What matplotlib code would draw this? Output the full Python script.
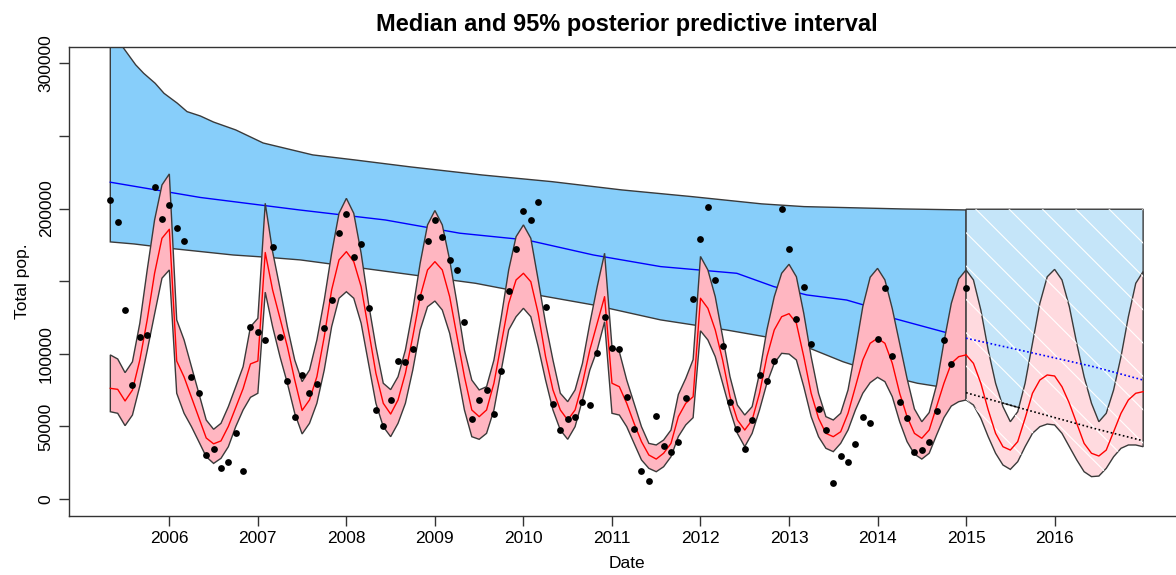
import numpy as np
import matplotlib.pyplot as plt

plt.rcParams['font.family'] = ['Liberation Sans', 'DejaVu Sans']
plt.rcParams['hatch.linewidth'] = 0.8

# monthly observations (thousands), May 2005 .. Jan 2015, nan = missing month
obs = [205.9, 190.5, 130.1, 78.5, 111.8, 112.9, 214.6, 192.6, 202.4, 186.4,
       177.9, 83.8, 72.8, 30.3, 34.6, 21.6, 25.7, 45.2, 19.3, 118.7,
       115.0, 109.5, 173.7, 111.8, 81.3, 56.3, 85.4, 72.8, 79.0, 117.7,
       137.0, 182.9, 196.0, 166.8, 175.4, 131.7, 61.3, 50.1, 68.2, 95.0,
       94.1, 103.3, 139.3, 177.4, 191.9, 180.6, 164.8, 157.9, 121.9, 55.3,
       68.0, 74.8, 58.3, 87.9, 143.4, 171.9, 198.1, 191.9, 204.3, 132.2,
       65.2, 47.3, 54.9, 56.3, 66.8, 64.5, 100.5, 125.3, 104.0, 103.3,
       70.0, 48.0, 19.5, 12.6, 56.9, 36.3, 32.2, 39.5, 69.3, 137.9,
       179.2, 200.9, 151.0, 105.4, 66.8, 48.0, 34.2, 54.2, 85.4, 81.0,
       95.0, 199.5, 171.9, 123.9, 146.2, 106.5, 62.2, 47.3, 11.2, 29.8,
       25.7, 37.7, 56.3, 52.1, 110.2, 145.5, 98.5, 66.6, 55.6, 32.6,
       33.5, 39.5, 60.4, 109.5, 93.0, np.nan, 145.5]

# posterior predictive median and 95% interval, same months
med = [76.2, 75.5, 67.5, 75.0, 95.7, 123.3, 155.4, 179.5, 185.7, 95.0,
       84.0, 70.0, 56.0, 42.0, 38.0, 40.0, 50.0, 63.0, 76.0, 93.0,
       95.0, 169.7, 143.9, 124.4, 104.9, 81.9, 61.0, 68.2, 84.2, 111.8,
       143.9, 164.6, 170.3, 163.4, 146.2, 116.4, 86.6, 65.9, 58.5, 68.2,
       86.6, 111.8, 139.3, 157.7, 163.4, 157.7, 139.3, 111.8, 84.2, 61.3,
       56.7, 61.3, 79.7, 107.2, 134.7, 150.8, 155.4, 149.6, 127.8, 98.0,
       75.1, 61.3, 54.4, 61.3, 79.7, 102.6, 121.0, 139.3, 79.7, 77.3,
       65.9, 52.1, 39.5, 30.3, 27.5, 31.5, 38.3, 56.7, 65.9, 70.4,
       138.2, 131.3, 116.4, 95.7, 70.4, 54.4, 47.5, 54.4, 72.8, 98.0,
       116.4, 125.5, 127.6, 121.0, 98.0, 72.8, 55.6, 45.2, 42.9, 46.3,
       59.0, 77.3, 95.7, 107.2, 110.7, 107.2, 93.4, 72.8, 56.7, 45.2,
       41.8, 47.5, 63.6, 79.7, 93.4, 98.0, 99.2]
lo = [60.1, 59.0, 50.5, 57.8, 77.8, 102.1, 127.3, 152.0, 157.7, 72.8,
      59.0, 49.8, 39.5, 29.1, 24.5, 28.0, 36.0, 49.8, 61.3, 70.0,
      72.8, 142.4, 118.6, 98.0, 79.7, 59.0, 44.8, 52.1, 65.9, 88.8,
      118.6, 138.2, 142.7, 138.2, 121.0, 93.4, 65.9, 49.8, 42.9, 52.1,
      65.9, 88.8, 116.4, 132.4, 136.3, 130.1, 114.1, 88.8, 61.3, 42.9,
      41.1, 45.2, 61.3, 88.8, 116.4, 125.5, 131.3, 125.5, 104.9, 81.9,
      61.3, 47.5, 41.1, 49.8, 68.2, 88.8, 102.6, 122.0, 59.0, 57.8,
      49.8, 38.3, 26.9, 21.1, 18.8, 22.2, 29.1, 43.0, 51.0, 56.0,
      115.8, 109.5, 98.0, 79.7, 61.3, 45.2, 36.0, 45.2, 61.3, 79.7,
      93.4, 100.3, 99.8, 95.7, 77.3, 56.7, 42.9, 34.9, 32.6, 38.3,
      47.5, 61.3, 72.8, 80.1, 83.8, 80.8, 70.4, 53.2, 39.5, 30.9,
      27.5, 31.5, 44.0, 56.0, 64.0, 67.0, 68.2]
hi = [99.2, 96.4, 87.0, 94.5, 121.0, 157.7, 192.1, 216.2, 223.8, 123.3,
      109.5, 91.1, 72.8, 54.4, 48.0, 52.1, 63.6, 77.3, 91.1, 118.6,
      124.4, 203.6, 170.3, 145.1, 118.6, 95.7, 80.8, 88.8, 109.5, 137.0,
      169.2, 196.7, 207.0, 196.7, 169.2, 134.7, 104.9, 79.7, 75.3, 84.2,
      102.6, 130.1, 162.3, 188.7, 198.6, 188.7, 164.6, 134.7, 102.6, 81.9,
      75.1, 77.3, 95.7, 125.5, 157.7, 180.6, 188.7, 179.5, 150.8, 121.0,
      95.7, 72.8, 67.0, 75.1, 93.4, 121.0, 146.2, 169.2, 104.9, 101.4,
      81.9, 65.9, 49.8, 38.3, 37.2, 40.6, 47.5, 72.0, 83.0, 96.0,
      167.0, 157.7, 139.3, 111.8, 84.2, 64.7, 57.8, 63.6, 86.6, 116.4,
      139.3, 155.4, 161.6, 153.0, 127.8, 98.0, 72.8, 56.7, 54.4, 59.0,
      75.1, 102.6, 132.4, 152.7, 158.8, 150.8, 131.0, 107.0, 83.0, 62.0,
      53.2, 59.5, 78.5, 108.0, 134.7, 151.5, 157.7]

# forecast, Jan 2015 .. Jan 2017 (thousands)
med_f = [99.2, 93.4, 79.7, 61.3, 45.2, 36.0, 33.7, 39.5, 55.6, 72.8, 81.9, 85.4,
         84.7, 77.3, 65.9, 52.1, 38.3, 31.5, 29.6, 33.7, 46.3, 59.0, 68.2, 72.8, 73.9]
lo_f = [68.2, 64.7, 55.6, 42.9, 31.5, 23.4, 20.4, 25.7, 36.0, 45.2, 49.8, 51.6,
        51.0, 45.2, 36.0, 26.9, 18.8, 15.4, 15.8, 21.1, 29.1, 34.9, 37.2, 37.2, 36.0]
hi_f = [157.7, 150.8, 130.1, 102.6, 79.7, 63.6, 53.2, 60.1, 79.7, 107.2, 134.7, 153.0,
        158.1, 150.8, 132.4, 107.2, 84.2, 65.9, 53.2, 59.0, 75.1, 98.0, 125.5, 148.5, 156.6]

# trend component (thousands), read at irregular dates
tr_hi_t = [2005.333, 2005.47, 2005.62, 2005.71, 2005.84, 2005.94, 2006.09, 2006.20,
           2006.35, 2006.50, 2006.75, 2007.06, 2007.62, 2008.10, 2008.73, 2009.53,
           2010.32, 2011.11, 2011.90, 2012.69, 2013.17, 2014.28, 2015.0]
tr_hi = [345.0, 311.5, 298.9, 293.1, 286.2, 279.3, 272.5, 266.7,
         263.7, 259.5, 254.1, 245.1, 236.9, 233.4, 228.6, 223.1,
         218.5, 212.8, 208.2, 203.2, 201.3, 199.7, 199.0]
tr_med_t = [2005.333, 2006.35, 2007.47, 2008.44, 2009.28, 2010.04, 2010.79, 2011.55,
            2012.41, 2012.83, 2013.20, 2013.65, 2013.91, 2014.18, 2014.78, 2015.0]
tr_med = [218.1, 207.6, 199.0, 192.1, 183.0, 178.3, 168.0, 160.0,
          155.4, 146.2, 140.5, 137.0, 132.4, 124.4, 114.5, 112.2]
tr_lo_t = [2005.333, 2005.60, 2006.05, 2006.72, 2007.11, 2007.48, 2008.33, 2009.46,
           2010.05, 2010.79, 2011.55, 2012.29, 2013.05, 2013.61, 2014.07, 2014.45, 2015.0]
tr_lo = [177.0, 175.6, 172.3, 168.0, 166.4, 164.6, 157.7, 148.5,
         141.6, 133.6, 123.3, 116.4, 108.3, 94.5, 85.4, 79.7, 74.4]

# trend forecast
trf_t = [2015.0, 2015.69, 2016.44, 2017.0]
trf_hi = [199.5, 199.5, 199.5, 199.5]
trf_med = [110.7, 101.4, 91.1, 81.9]
trf_lo = [73.2, 61.3, 48.7, 40.1]

K = 1000.0
t = 2005 + (4 + np.arange(len(obs))) / 12
tf = 2015 + np.arange(len(med_f)) / 12
obs, med, lo, hi = [np.array(a) * K for a in (obs, med, lo, hi)]
med_f, lo_f, hi_f = [np.array(a) * K for a in (med_f, lo_f, hi_f)]
tr_hi, tr_med, tr_lo = [np.array(a) * K for a in (tr_hi, tr_med, tr_lo)]
trf_hi, trf_med, trf_lo = [np.array(a) * K for a in (trf_hi, trf_med, trf_lo)]

fig = plt.figure(figsize=(11.76, 5.75), dpi=100)
ax = fig.add_axes([0.0587, 0.1026, 0.9485, 0.8162])

edge = '#3a3a3a'
# trend band
ax.fill(np.r_[tr_hi_t, tr_lo_t[::-1]], np.r_[tr_hi, tr_lo[::-1]],
        facecolor='#87CEFA', edgecolor=edge, lw=1, zorder=1)
ax.plot(tr_med_t, tr_med, color='blue', lw=1, zorder=2)
# trend forecast
ax.fill(np.r_[trf_t, trf_t[::-1]], np.r_[trf_hi, trf_lo[::-1]],
        facecolor='#C5E5F9', edgecolor=edge, lw=1, zorder=1)
ax.fill(np.r_[trf_t, trf_t[::-1]], np.r_[trf_hi, trf_lo[::-1]],
        facecolor='none', edgecolor='white', hatch='\\', lw=0, zorder=1.5)

# seasonal predictive band
ax.fill(np.r_[t, t[::-1]], np.r_[hi, lo[::-1]],
        facecolor='#FFB6C1', edgecolor=edge, lw=1, zorder=3)
ax.plot(t, med, color='red', lw=1, zorder=4)
ax.fill(np.r_[tf, tf[::-1]], np.r_[hi_f, lo_f[::-1]],
        facecolor='#FFDADF', edgecolor=edge, lw=1, zorder=3)
ax.fill(np.r_[tf, tf[::-1]], np.r_[hi_f, lo_f[::-1]],
        facecolor='none', edgecolor='white', hatch='\\', lw=0, zorder=3.5)
ax.plot(tf, med_f, color='red', lw=1, zorder=4)
ax.plot(trf_t, trf_med, color='blue', lw=1.2, ls=(0, (1, 1.5)), zorder=5)
ax.plot(trf_t, trf_lo, color='black', lw=1.2, ls=(0, (1, 1.5)), zorder=5)

ax.scatter(t, obs, s=24, color='black', zorder=6, linewidths=0)

ax.set_xlim(2004.867, 2017.467)
ax.set_ylim(-11700, 311400)
ax.set_xticks(range(2006, 2017))
ax.set_xticklabels([str(y) for y in range(2006, 2017)], fontsize=12.5)
yt = [0, 50000, 100000, 150000, 200000, 250000, 300000]
ax.set_yticks(yt)
ax.set_yticklabels(['0', '50000', '100000', '', '200000', '', '300000'],
                   rotation=90, va='center', fontsize=12.5)
ax.tick_params(direction='out', length=7, width=1, color='#333333', pad=4)
for s in ax.spines.values():
    s.set_color('#333333')
    s.set_linewidth(1)

ax.set_xlabel('Date', fontsize=12.5, labelpad=7)
ax.set_ylabel('Total pop.', fontsize=12.5, labelpad=6)
ax.set_title('Median and 95% posterior predictive interval', fontsize=17,
             fontweight='bold', pad=11)

fig.savefig('out.png', dpi=100)
